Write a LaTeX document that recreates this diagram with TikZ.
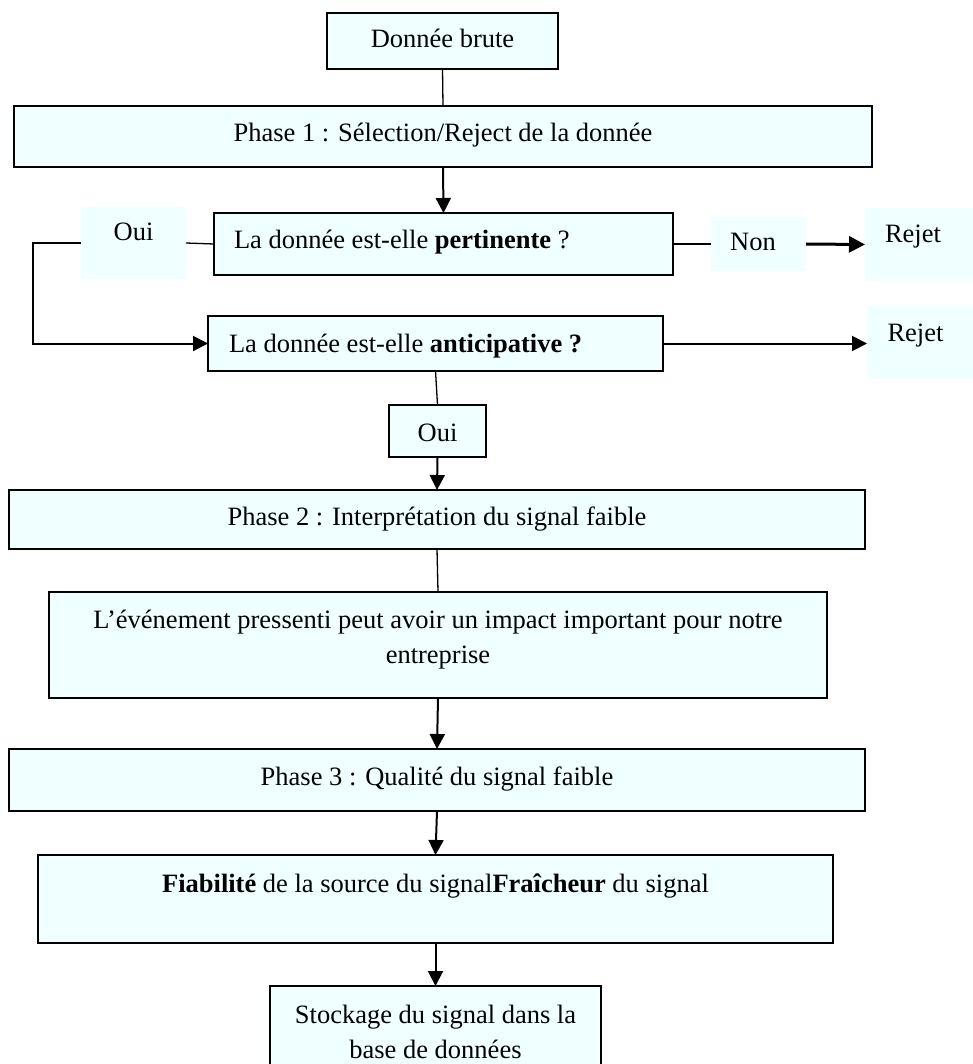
\documentclass[tikz,border=0pt]{standalone}
\usepackage{fontspec}
\setmainfont{Liberation Serif}
\usetikzlibrary{arrows.meta}
\definecolor{boxfill}{RGB}{240,255,255}
\newcommand{\mylift}[2]{\raisebox{#1}[0pt][0pt]{#2}}
\begin{document}
\begin{tikzpicture}[x=1pt,y=-1pt,
  base/.style={inner sep=0pt, outer sep=0pt, fill=boxfill, font=\fontsize{26.5}{35}\selectfont},
  stepbox/.style={base, draw=black, line width=2pt},
  tag/.style={base},
  thinline/.style={line width=1.3pt},
  arr/.style={line width=2pt, -{Triangle[length=15pt,width=15pt]}},
  thickarr/.style={line width=3pt, -{Triangle[length=16pt,width=16pt]}},
]
\useasboundingbox (0,0) rectangle (972,1064);

\node[stepbox, minimum width=231pt, minimum height=56pt] (brute) at (442.5,41) {\mylift{-7pt}{Donnée brute}};
\node[stepbox, minimum width=858pt, minimum height=61pt] (ph1) at (443,136.5) {\mylift{-5pt}{Phase 1 : Sélection/Reject de la donnée}};
\node[stepbox, minimum width=459pt, minimum height=62pt] (pert) at (443.5,244) {\mylift{-5pt}{\makebox[419pt][l]{La donnée est-elle \textbf{pertinente} ?}}};
\node[tag, minimum width=105pt, minimum height=72pt] (ouiL) at (133.5,243) {\mylift{2pt}{Oui}};
\node[tag, minimum width=95pt, minimum height=54pt] (non) at (758.5,244) {\mylift{-7pt}{Non\hspace{11pt}}};
\node[tag, minimum width=108pt, minimum height=73pt] (rej1) at (919,244.5) {\mylift{1.5pt}{Rejet\hspace{12pt}}};
\node[stepbox, minimum width=455pt, minimum height=55pt] (ant) at (435.5,343.5) {\mylift{-8.5pt}{\makebox[413pt][l]{La donnée est-elle \textbf{anticipative ?}}}};
\node[tag, minimum width=106pt, minimum height=73pt] (rej2) at (920,342.5) {\mylift{1pt}{Rejet\hspace{9pt}}};
\node[stepbox, minimum width=97pt, minimum height=52pt] (oui2) at (437.5,431) {\mylift{-10pt}{Oui}};
\node[stepbox, minimum width=856pt, minimum height=59pt] (ph2) at (437,519.5) {\mylift{-5.5pt}{Phase 2 : Interprétation du signal faible}};
\node[stepbox, minimum width=778pt, minimum height=106pt] (impact) at (438,645) {\mylift{-18pt}{\begin{tabular}[b]{@{}c@{}}L’événement pressenti peut avoir un impact important pour notre\\ entreprise\end{tabular}}};
\node[stepbox, minimum width=856pt, minimum height=62pt] (ph3) at (437,780) {\mylift{-5pt}{Phase 3 : Qualité du signal faible}};
\node[stepbox, minimum width=795pt, minimum height=88pt] (fiab) at (435.5,899) {\mylift{7pt}{\textbf{Fiabilité} de la source du signal\textbf{Fraîcheur} du signal}};
\node[stepbox, minimum width=331pt, minimum height=82pt] (stock) at (435.5,1027) {\mylift{-31pt}{\begin{tabular}[b]{@{}c@{}}Stockage du signal dans la\\ base de données\end{tabular}}};

\coordinate (loopx) at (33,243);

\draw[thinline] (brute.south) -- (ph1.north);
\draw[arr] (ph1.south) -- (pert.north);
\draw[thinline] (pert.west) -- (ouiL.east);
\draw[arr] (ouiL.west) -- (loopx) |- (ant.west);
\draw[thinline] (pert.east) -- (non.west);
\draw[thickarr] (non.east) -- (rej1.west);
\draw[arr] (ant.east) -- (ant.east -| rej2.west);
\draw[thinline] (ant.south) -- (oui2.north);
\draw[arr] (oui2.south) -- (ph2.north);
\draw[thinline] (ph2.south) -- (impact.north);
\draw[arr] (impact.south) -- (ph3.north);
\draw[arr] (ph3.south) -- (fiab.north);
\draw[arr] (fiab.south) -- (stock.north);
\end{tikzpicture}
\end{document}
